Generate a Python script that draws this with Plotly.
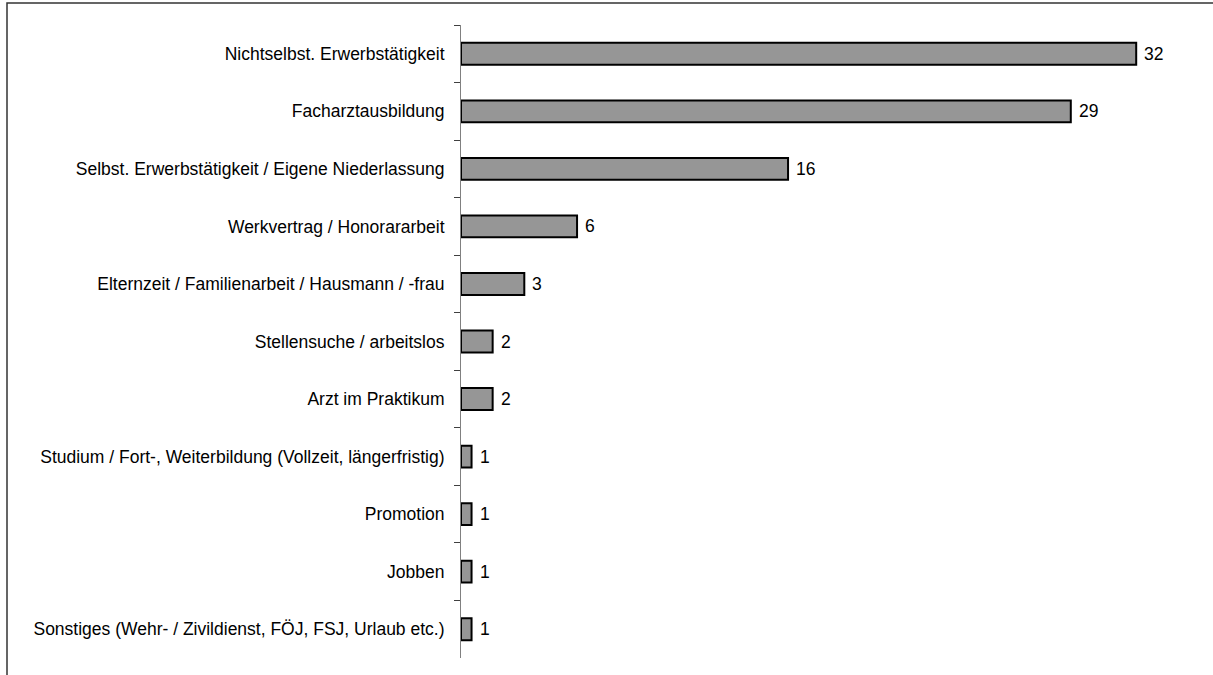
import plotly.graph_objects as go

categories = [
    "Nichtselbst. Erwerbstätigkeit",
    "Facharztausbildung",
    "Selbst. Erwerbstätigkeit / Eigene Niederlassung",
    "Werkvertrag / Honorararbeit",
    "Elternzeit / Familienarbeit / Hausmann / -frau",
    "Stellensuche / arbeitslos",
    "Arzt im Praktikum",
    "Studium / Fort-, Weiterbildung (Vollzeit, längerfristig)",
    "Promotion",
    "Jobben",
    "Sonstiges (Wehr- / Zivildienst, FÖJ, FSJ, Urlaub etc.)",
]
values = [32.0, 28.9, 15.5, 5.5, 3.0, 1.5, 1.5, 0.5, 0.5, 0.5, 0.5]
value_labels = ["32", "29", "16", "6", "3", "2", "2", "1", "1", "1", "1"]

W, H = 1213, 675
ML, MR, MT, MB = 461, 35, 25, 17
FONT = "Liberation Sans Narrow, Arial Narrow, Liberation Sans, Arial, sans-serif"
FS = 17.5

fig = go.Figure()
fig.add_trace(go.Bar(
    x=values, y=categories, orientation="h",
    width=0.38,
    marker=dict(color="#969696", line=dict(color="#000000", width=2)),
    hoverinfo="skip",
))

for v, c, t in zip(values, categories, value_labels):
    fig.add_annotation(x=v, y=c, text=t, showarrow=False, xanchor="left",
                       xshift=6, font=dict(family=FONT, size=FS, color="#000000"))

pw = W - ML - MR
ph = H - MT - MB
def px2x(px):
    return (px - ML) / pw
def py2y(py):
    return 1 - (py - MT) / ph

fig.add_shape(type="rect", xref="paper", yref="paper",
              x0=px2x(7), x1=px2x(W + 10), y0=py2y(H + 10), y1=py2y(3),
              line=dict(color="#333333", width=1.5), fillcolor="rgba(0,0,0,0)", layer="below")

fig.update_layout(
    width=W, height=H,
    margin=dict(l=ML, r=MR, t=MT, b=MB, pad=0),
    plot_bgcolor="white", paper_bgcolor="white",
    showlegend=False,
    font=dict(family=FONT, size=FS, color="#000000"),
    xaxis=dict(range=[0, pw / 21.1], visible=False, fixedrange=True),
    yaxis=dict(
        autorange=False, range=[len(categories) - 0.5, -0.5],
        type="category", fixedrange=True,
        showline=True, linecolor="#808080", linewidth=1,
        ticks="outside", ticklen=6, tickcolor="#404040", tickwidth=1,
        tickson="boundaries", showgrid=False, zeroline=False,
        ticklabelstandoff=12,
        tickfont=dict(family=FONT, size=FS, color="#000000"),
    ),
)

fig.write_html("out.html", config={"displayModeBar": False, "staticPlot": True},
               post_script="document.body.style.margin='0';")
